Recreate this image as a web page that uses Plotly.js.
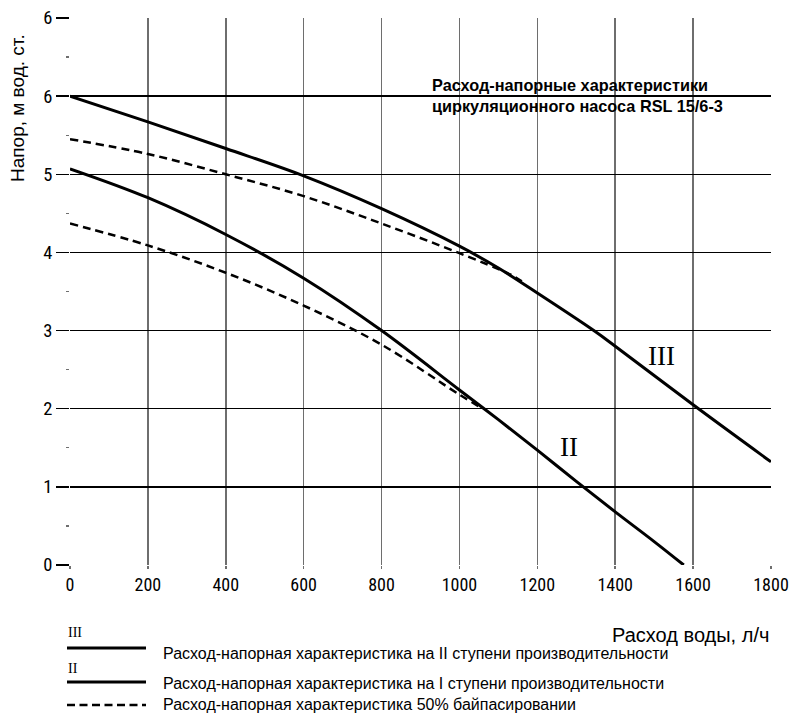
<!DOCTYPE html>
<html><head><meta charset="utf-8">
<script src="https://cdn.plot.ly/plotly-3.0.1.min.js"></script>
<style>html,body{margin:0;padding:0;background:#fff}#chart{width:791px;height:719px}</style>
</head><body><div id="chart"></div>
<script>
// Data
const flowIII = [0, 200, 400, 600, 800, 1000, 1100, 1200, 1345, 1400, 1600, 1800];
const headIII = [6.0, 5.67, 5.33, 4.98, 4.56, 4.08, 3.80, 3.48, 3.00, 2.80, 2.05, 1.32];
const flowII = [0, 200, 400, 600, 800, 1000, 1100, 1200, 1300, 1400, 1500, 1576];
const headII = [5.07, 4.70, 4.23, 3.67, 3.00, 2.24, 1.86, 1.47, 1.07, 0.68, 0.30, 0.0];
const flowBypassIII = [0, 200, 400, 600, 800, 1000, 1130, 1160];
const headBypassIII = [5.45, 5.26, 5.00, 4.72, 4.37, 3.99, 3.72, 3.63];
const flowBypassII = [0, 200, 400, 600, 800, 1000, 1060];
const headBypassII = [4.37, 4.09, 3.74, 3.32, 2.82, 2.18, 2.00];
const xTicks = [0, 200, 400, 600, 800, 1000, 1200, 1400, 1600, 1800];
const yTickVals = [0, 1, 2, 3, 4, 5, 6, 7];
const yTickText = ['0', '1', '2', '3', '4', '5', '6', '6'];
const legendLabels = [
  'Расход-напорная характеристика на II ступени производительности',
  'Расход-напорная характеристика на I ступени производительности',
  'Расход-напорная характеристика 50% байпасировании'
];
const titleLines = ['Расход-напорные характеристики', 'циркуляционного насоса RSL 15/6-3'];

const NARROW = '"Roboto Condensed", "Liberation Sans Narrow", "DejaVu Sans Condensed", sans-serif';
const SANS = '"Liberation Sans", Arial, sans-serif';
const SERIF = '"Liberation Serif", "DejaVu Serif", serif';

// pixel -> paper helpers (plot area: left 70, top 18, 701 x 547)
const L = 70, T = 18, W = 701, H = 547;
const px = x => (x - L) / W;
const py = y => (T + H - y) / H;

const solid = {color: '#000', width: 3, shape: 'spline', smoothing: 1};
const dashed = {color: '#000', width: 2.5, dash: '8px,5px', shape: 'spline', smoothing: 1};

const traces = [
  {x: flowIII, y: headIII, mode: 'lines', line: solid},
  {x: flowII, y: headII, mode: 'lines', line: solid},
  {x: flowBypassIII, y: headBypassIII, mode: 'lines', line: dashed},
  {x: flowBypassII, y: headBypassII, mode: 'lines', line: dashed}
];

function ann(x, y, text, font, extra) {
  return Object.assign({xref: 'paper', yref: 'paper', x: px(x), y: py(y), text: text, showarrow: false,
    xanchor: 'center', yanchor: 'middle', font: font}, extra || {});
}

const annotations = [
  ann(430, 85, '<b>' + titleLines[0] + '</b>', {family: SANS, size: 16.3, color: '#000'}, {xanchor: 'left'}),
  ann(430, 106, '<b>' + titleLines[1] + '</b>', {family: SANS, size: 16.3, color: '#000'}, {xanchor: 'left'}),
  ann(661.5, 356, 'III', {family: SERIF, size: 27, color: '#000'}),
  ann(568.5, 447, 'II', {family: SERIF, size: 27, color: '#000'}),
  ann(17, 108, 'Напор, м вод. ст.', {family: SANS, size: 19, color: '#000'}, {textangle: -90}),
  ann(771, 635, 'Расход воды, л/ч', {family: SANS, size: 20, color: '#000'}, {xanchor: 'right'}),
  ann(66, 632, 'III', {family: SERIF, size: 14, color: '#000'}, {xanchor: 'left'}),
  ann(66, 668, 'II', {family: SERIF, size: 14, color: '#000'}, {xanchor: 'left'}),
  ann(161, 653, legendLabels[0], {family: SANS, size: 16, color: '#000'}, {xanchor: 'left'}),
  ann(161, 683, legendLabels[1], {family: SANS, size: 16, color: '#000'}, {xanchor: 'left'}),
  ann(161, 704, legendLabels[2], {family: SANS, size: 16, color: '#000'}, {xanchor: 'left'})
];

const shapes = [
  {type: 'line', xref: 'paper', yref: 'paper', x0: px(67), x1: px(146), y0: py(648), y1: py(648), line: {color: '#000', width: 3}},
  {type: 'line', xref: 'paper', yref: 'paper', x0: px(67), x1: px(146), y0: py(682), y1: py(682), line: {color: '#000', width: 3}},
  {type: 'line', xref: 'paper', yref: 'paper', x0: px(67), x1: px(146), y0: py(705), y1: py(705), line: {color: '#000', width: 2.5, dash: '8px,4.5px'}}
];

const layout = {
  width: 791, height: 719,
  margin: {l: 70, r: 20, t: 18, b: 154},
  paper_bgcolor: '#fff', plot_bgcolor: '#fff',
  showlegend: false,
  font: {family: NARROW, color: '#000'},
  xaxis: {
    range: [0, 1800], tickmode: 'array', tickvals: xTicks,
    showgrid: true, gridcolor: '#6e6e6e', gridwidth: 1.5,
    zeroline: false, showline: false,
    ticks: 'outside', ticklen: 3, tickcolor: '#6e6e6e', tickwidth: 1.5,
    tickfont: {family: NARROW, size: 18, color: '#000'}
  },
  yaxis: {
    range: [0, 7], tickmode: 'array', tickvals: yTickVals, ticktext: yTickText,
    showgrid: true, gridcolor: '#000', gridwidth: 1.3,
    zeroline: false, showline: false,
    ticks: 'outside', ticklen: 13, tickcolor: '#000', tickwidth: 1.3,
    tickfont: {family: NARROW, size: 18.5, color: '#000'},
    minor: {tickmode: 'linear', tick0: 0, dtick: 0.5, ticks: 'outside', ticklen: 3, tickcolor: '#6e6e6e', tickwidth: 1.3, showgrid: false}
  },
  annotations: annotations,
  shapes: shapes
};

Plotly.newPlot('chart', traces, layout, {staticPlot: true, displayModeBar: false});
</script></body></html>
